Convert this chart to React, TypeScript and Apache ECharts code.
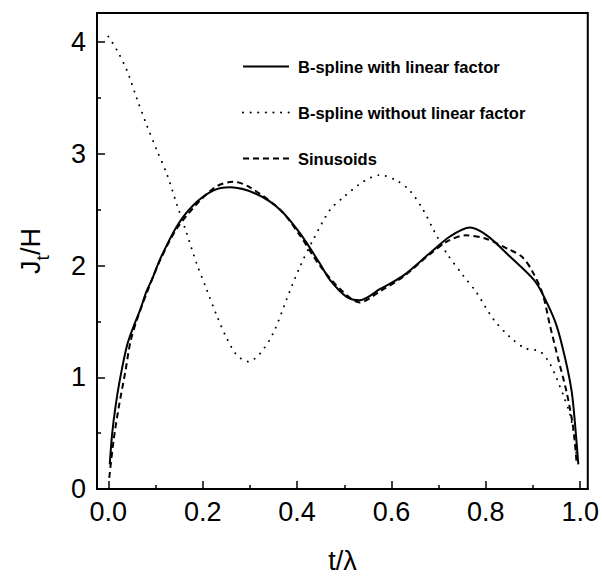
import React, { useEffect, useRef } from "react";
import * as echarts from "echarts";

const seriesNames = [
  "B-spline with linear factor",
  "B-spline without linear factor",
  "Sinusoids",
];

const bsplineLinear: [number, number][] = [
  [0.003, 0.22], [0.008, 0.49], [0.015, 0.73], [0.025, 0.99], [0.04, 1.29],
  [0.054, 1.46], [0.068, 1.61], [0.081, 1.77], [0.093, 1.88], [0.11, 2.06],
  [0.145, 2.35], [0.18, 2.54], [0.222, 2.67], [0.258, 2.7], [0.314, 2.64],
  [0.364, 2.5], [0.406, 2.29], [0.448, 2.02], [0.47, 1.87], [0.505, 1.72],
  [0.533, 1.69], [0.576, 1.79], [0.625, 1.91], [0.681, 2.11], [0.724, 2.26],
  [0.766, 2.34], [0.802, 2.27], [0.851, 2.08], [0.904, 1.86], [0.929, 1.67],
  [0.95, 1.46], [0.968, 1.17], [0.982, 0.87], [0.989, 0.58], [0.996, 0.22],
];

const bsplineNoLinear: [number, number][] = [
  [0.0, 4.05], [0.018, 3.93], [0.039, 3.75], [0.06, 3.5], [0.081, 3.26],
  [0.103, 3.03], [0.124, 2.82], [0.145, 2.55], [0.166, 2.29], [0.187, 2.02],
  [0.208, 1.79], [0.23, 1.55], [0.251, 1.35], [0.272, 1.2], [0.297, 1.14],
  [0.321, 1.21], [0.35, 1.4], [0.378, 1.7], [0.406, 1.99], [0.434, 2.23],
  [0.47, 2.5], [0.498, 2.61], [0.54, 2.75], [0.576, 2.81], [0.611, 2.76],
  [0.639, 2.67], [0.667, 2.5], [0.689, 2.32], [0.717, 2.11], [0.752, 1.91],
  [0.78, 1.76], [0.816, 1.52], [0.851, 1.36], [0.883, 1.26], [0.915, 1.23],
  [0.936, 1.12], [0.95, 0.99], [0.964, 0.84], [0.978, 0.67], [0.989, 0.43],
  [0.992, 0.28],
];

const sinusoids: [number, number][] = [
  [0.002, 0.1], [0.011, 0.43], [0.022, 0.73], [0.036, 1.05], [0.047, 1.32],
  [0.061, 1.52], [0.082, 1.76], [0.11, 2.05], [0.145, 2.33], [0.194, 2.58],
  [0.23, 2.71], [0.265, 2.75], [0.3, 2.7], [0.364, 2.5], [0.406, 2.27],
  [0.448, 2.0], [0.491, 1.79], [0.533, 1.67], [0.576, 1.77], [0.625, 1.9],
  [0.681, 2.1], [0.72, 2.22], [0.756, 2.27], [0.8, 2.24], [0.851, 2.14],
  [0.876, 2.08], [0.897, 1.96], [0.92, 1.75], [0.936, 1.46], [0.953, 1.17],
  [0.971, 0.87], [0.985, 0.55], [0.992, 0.25],
];

const xMajorTicks = [0, 0.2, 0.4, 0.6, 0.8, 1.0];
const xMinorTicks = [0.1, 0.3, 0.5, 0.7, 0.9];
const yMajorTicks = [0, 1, 2, 3, 4];
const yMinorTicks = [0.5, 1.5, 2.5, 3.5];

const FONT = "'Liberation Sans', Arial, Helvetica, sans-serif";

export default function App() {
  const ref = useRef<HTMLDivElement>(null);
  useEffect(() => {
    if (!ref.current) return;
    const chart = echarts.init(ref.current, null, { renderer: "svg" });
    const xMin = -0.024;
    const xMax = 1.016;
    const yMin = 0;
    const yMax = 4.26;
    chart.setOption({
      animation: false,
      backgroundColor: "#ffffff",
      textStyle: { fontFamily: FONT, color: "#000" },
      grid: {
        left: 97,
        right: 14,
        top: 13,
        bottom: 85,
        show: true,
        borderColor: "#000",
        borderWidth: 2,
        backgroundColor: "transparent",
      },
      legend: {
        orient: "vertical",
        left: 237,
        top: 53,
        itemWidth: 46,
        itemHeight: 14,
        itemGap: 29,
        selectedMode: false,
        data: seriesNames,
        itemStyle: { opacity: 0, borderWidth: 0 },
        textStyle: {
          fontFamily: FONT,
          fontSize: 16.5,
          fontWeight: "bold",
          color: "#000",
          padding: [0, 0, 0, 4],
        },
      },
      xAxis: [
        {
          type: "value",
          min: xMin,
          max: xMax,
          name: "t/λ",
          nameLocation: "middle",
          nameGap: 58,
          nameTextStyle: { fontSize: 27, fontFamily: FONT, color: "#000" },
          axisLine: { show: true, onZero: false, lineStyle: { color: "#000", width: 2 } },
          axisTick: {
            show: true,
            inside: true,
            length: 8,
            customValues: xMajorTicks,
            lineStyle: { color: "#000", width: 1.5 },
          },
          axisLabel: {
            customValues: xMajorTicks,
            fontSize: 27,
            fontFamily: FONT,
            color: "#000",
            margin: 9,
            formatter: (v: number) => v.toFixed(1),
          },
          splitLine: { show: false },
        },
        {
          type: "value",
          min: xMin,
          max: xMax,
          position: "bottom",
          axisLine: { show: false, onZero: false },
          axisTick: {
            show: true,
            inside: true,
            length: 4,
            customValues: xMinorTicks,
            lineStyle: { color: "#000", width: 1.5 },
          },
          axisLabel: { show: false },
          splitLine: { show: false },
        },
      ],
      yAxis: [
        {
          type: "value",
          min: yMin,
          max: yMax,
          name: "{a|J}{s|t}{a|/H}",
          nameLocation: "middle",
          nameGap: 52,
          nameTextStyle: {
            fontSize: 27,
            fontFamily: FONT,
            color: "#000",
            rich: {
              a: { fontSize: 27, fontFamily: FONT, color: "#000", lineHeight: 28, verticalAlign: "top" },
              s: { fontSize: 19, fontFamily: FONT, color: "#000", lineHeight: 20, verticalAlign: "top", padding: [16, 0, 0, 0] },
            },
          },
          axisLine: { show: true, onZero: false, lineStyle: { color: "#000", width: 2 } },
          axisTick: {
            show: true,
            inside: true,
            length: 8,
            customValues: yMajorTicks,
            lineStyle: { color: "#000", width: 1.5 },
          },
          axisLabel: {
            customValues: yMajorTicks,
            fontSize: 27,
            fontFamily: FONT,
            color: "#000",
            margin: 11,
          },
          splitLine: { show: false },
        },
        {
          type: "value",
          min: yMin,
          max: yMax,
          position: "left",
          axisLine: { show: false, onZero: false },
          axisTick: {
            show: true,
            inside: true,
            length: 4,
            customValues: yMinorTicks,
            lineStyle: { color: "#000", width: 1.5 },
          },
          axisLabel: { show: false },
          splitLine: { show: false },
        },
      ],
      series: [
        {
          name: seriesNames[0],
          type: "line",
          data: bsplineLinear,
          showSymbol: false,
          symbol: "none",
          smooth: 0.3,
          lineStyle: { color: "#000", width: 2, type: "solid" },
          itemStyle: { color: "#000" },
        },
        {
          name: seriesNames[1],
          type: "line",
          data: bsplineNoLinear,
          showSymbol: false,
          symbol: "none",
          smooth: 0.3,
          lineStyle: { color: "#000", width: 1.9, type: [0.1, 7.5], cap: "round" },
          itemStyle: { color: "#000" },
        },
        {
          name: seriesNames[2],
          type: "line",
          data: sinusoids,
          showSymbol: false,
          symbol: "none",
          smooth: 0.3,
          lineStyle: { color: "#000", width: 2, type: [6, 4] },
          itemStyle: { color: "#000" },
        },
      ],
    });
    return () => chart.dispose();
  }, []);
  return <div ref={ref} style={{ width: 602, height: 579, position: "absolute", left: 0, top: 0 }} />;
}
